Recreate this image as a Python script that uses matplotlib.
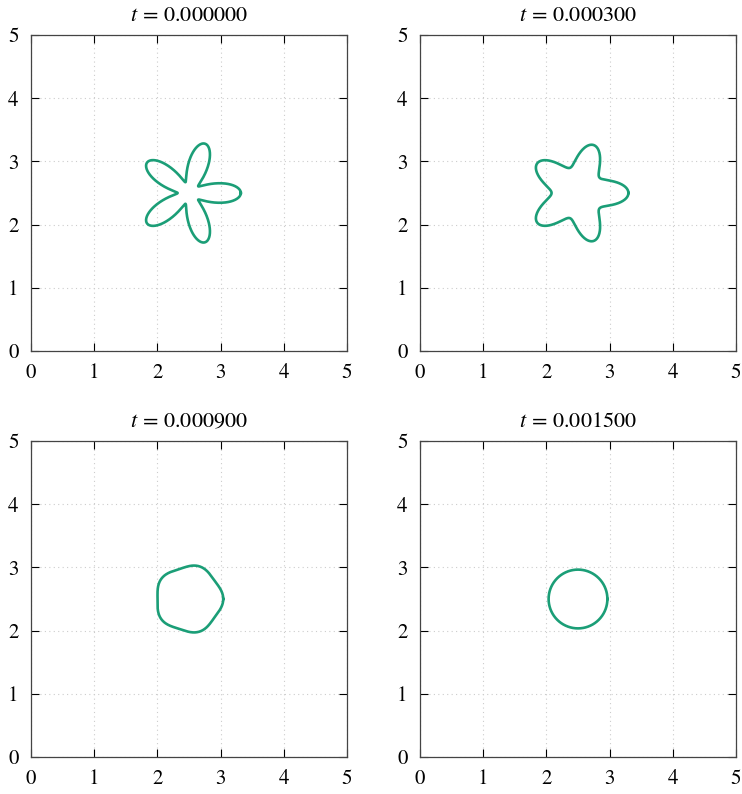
import numpy as np
import matplotlib
matplotlib.use("Agg")
import matplotlib.pyplot as plt

# Snapshots of a five-fold interface relaxing toward a circle.
# Each shape is stored as polar Fourier data about its centre:
# r(theta) = r0 + a5*cos(5 theta) + a10*cos(10 theta)
times = ["0.000000", "0.000300", "0.000900", "0.001500"]
centre_x = [2.5, 2.5, 2.5, 2.5]
centre_y = [2.5, 2.5, 2.5, 2.5]
r0 = [0.50, 0.60, 0.52, 0.465]
a5 = [0.32, 0.19, 0.022, 0.0]
a10 = [0.0, 0.008, 0.0, 0.0]

ticks = [0, 1, 2, 3, 4, 5]
color = "#1b9e77"

plt.rcParams.update({
    "font.family": "STIXGeneral",
    "mathtext.fontset": "stix",
    "font.size": 15,
})

fig = plt.figure(figsize=(7.42, 7.94), dpi=100)
W, H = 742, 794
lefts = [31, 420]
tops = [35, 441]
size = 316

theta = np.linspace(0, 2 * np.pi, 721)

for k in range(4):
    row, col = divmod(k, 2)
    ax = fig.add_axes([lefts[col] / W, 1 - (tops[row] + size) / H, size / W, size / H])
    r = r0[k] + a5[k] * np.cos(5 * theta) + a10[k] * np.cos(10 * theta)
    ax.plot(centre_x[k] + r * np.cos(theta), centre_y[k] + r * np.sin(theta),
            color=color, linewidth=1.9, zorder=3)
    ax.set_xlim(0, 5)
    ax.set_ylim(0, 5)
    ax.set_xticks(ticks)
    ax.set_yticks(ticks)
    ax.grid(True, linestyle=(0, (1, 3)), color="#cccccc", linewidth=0.8)
    ax.tick_params(direction="in", top=True, right=True, length=6, width=0.8,
                   labelsize=15, pad=9)
    for spine in ax.spines.values():
        spine.set_linewidth(0.9)
        spine.set_color("#444444")
    ax.set_title(r"$t\, =\, $" + times[k], fontsize=16, pad=10)

fig.savefig("out.png", dpi=100)
